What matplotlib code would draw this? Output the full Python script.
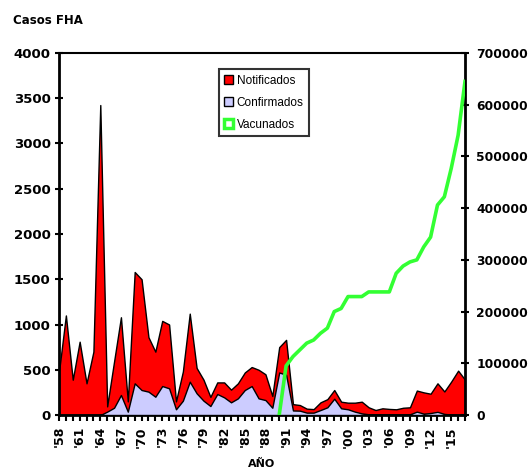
import matplotlib
matplotlib.use("Agg")
import matplotlib.pyplot as plt
from matplotlib.patches import Patch
import numpy as np

# Year-by-year values
years = list(range(1958, 2018))

notificados = [480, 1100, 390, 810, 350, 700, 3425, 95, 590, 1080,
               150, 1580, 1500, 860, 700, 1040, 1000, 150, 480, 1120,
               520, 390, 200, 360, 360, 280, 350, 470, 530, 500,
               450, 210, 750, 830, 120, 110, 70, 65, 140, 175,
               276, 147, 136, 136, 147, 85, 55, 74, 67, 63,
               80, 85, 270, 250, 235, 350, 260, 370, 490, 390]

confirmados = [0, 0, 0, 0, 0, 0, 0, 37, 80, 221,
               37, 350, 276, 258, 202, 320, 295, 63, 158, 368,
               240, 158, 99, 232, 195, 140, 184, 276, 320, 184,
               165, 80, 470, 445, 50, 48, 26, 26, 55, 85,
               180, 74, 63, 37, 18, 8, 5, 8, 8, 5,
               5, 8, 37, 15, 22, 35, 12, 5, 0, 0]

vac_years = list(range(1990, 2018))
vacunados = [0, 95000, 113000, 126000, 139000, 145000, 158000, 168000,
             200000, 206000, 229000, 229000, 229000, 238000, 238000,
             238000, 238000, 274000, 288000, 296000, 300000, 325000,
             344000, 406000, 422000, 477000, 541000, 645000]

left_ticks = [0, 500, 1000, 1500, 2000, 2500, 3000, 3500, 4000]
right_ticks = [0, 100000, 200000, 300000, 400000, 500000, 600000, 700000]

RED = "#ff0000"
LAVENDER = "#ccccff"
GREEN = "#33ff33"

fig = plt.figure(figsize=(5.31, 4.68), dpi=100)
ax = fig.add_axes([59 / 531, 1 - 415 / 468, (465 - 59) / 531, (415 - 53) / 468])

ax.fill_between(years, notificados, 0, facecolor=RED, edgecolor="black", linewidth=1, zorder=2)
ax.fill_between(years, confirmados, 0, facecolor=LAVENDER, edgecolor="black", linewidth=1, zorder=3)

ax.set_xlim(years[0], years[-1])
ax.set_ylim(0, 4000)
ax.set_yticks(left_ticks)
ax.set_yticklabels([str(v) for v in left_ticks], fontsize=9.5, fontweight="bold")

xlabels = ["'%02d" % (y % 100) if (y - 1958) % 3 == 0 else "" for y in years]
ax.set_xticks(years)
ax.set_xticklabels(xlabels, rotation=90, fontsize=9, fontweight="bold")
ax.tick_params(axis="x", direction="out", length=4, width=1.5, pad=4)
ax.tick_params(axis="y", direction="inout", length=6, width=1.5, pad=3)
ax.set_xlabel("AÑO", fontsize=8, fontweight="bold", labelpad=8)

for side in ["left", "bottom"]:
    ax.spines[side].set_linewidth(2)
ax.spines["top"].set_linewidth(1.5)
ax.spines["right"].set_visible(False)

ax2 = ax.twinx()
ax2.plot(vac_years, vacunados, color=GREEN, linewidth=2.6, zorder=4)
ax2.set_ylim(0, 700000)
ax2.set_yticks(right_ticks)
ax2.set_yticklabels([str(v) for v in right_ticks], fontsize=8.8, fontweight="bold")
ax2.tick_params(axis="y", direction="inout", length=6, width=1.5, pad=5)
ax2.spines["right"].set_linewidth(2)
for side in ["left", "bottom", "top"]:
    ax2.spines[side].set_visible(False)

handles = [Patch(facecolor=RED, edgecolor="black", linewidth=1),
           Patch(facecolor=LAVENDER, edgecolor="black", linewidth=1),
           Patch(facecolor="white", edgecolor=GREEN, linewidth=2.5)]
leg = ax2.legend(handles, ["Notificados", "Confirmados", "Vacunados"],
                 loc="upper left", bbox_to_anchor=(0.394, 0.955),
                 prop={"family": "Liberation Sans", "size": 8.5},
                 frameon=True, fancybox=False, handlelength=0.75, handleheight=0.75,
                 handletextpad=0.3, labelspacing=0.85, borderpad=0.45, borderaxespad=0)
leg.get_frame().set_edgecolor("black")
leg.get_frame().set_linewidth(1.5)

fig.text(13 / 531, 1 - 21 / 468, "Casos FHA", fontsize=8.5, fontweight="bold", va="center", ha="left")

fig.savefig("out.png", dpi=100)
